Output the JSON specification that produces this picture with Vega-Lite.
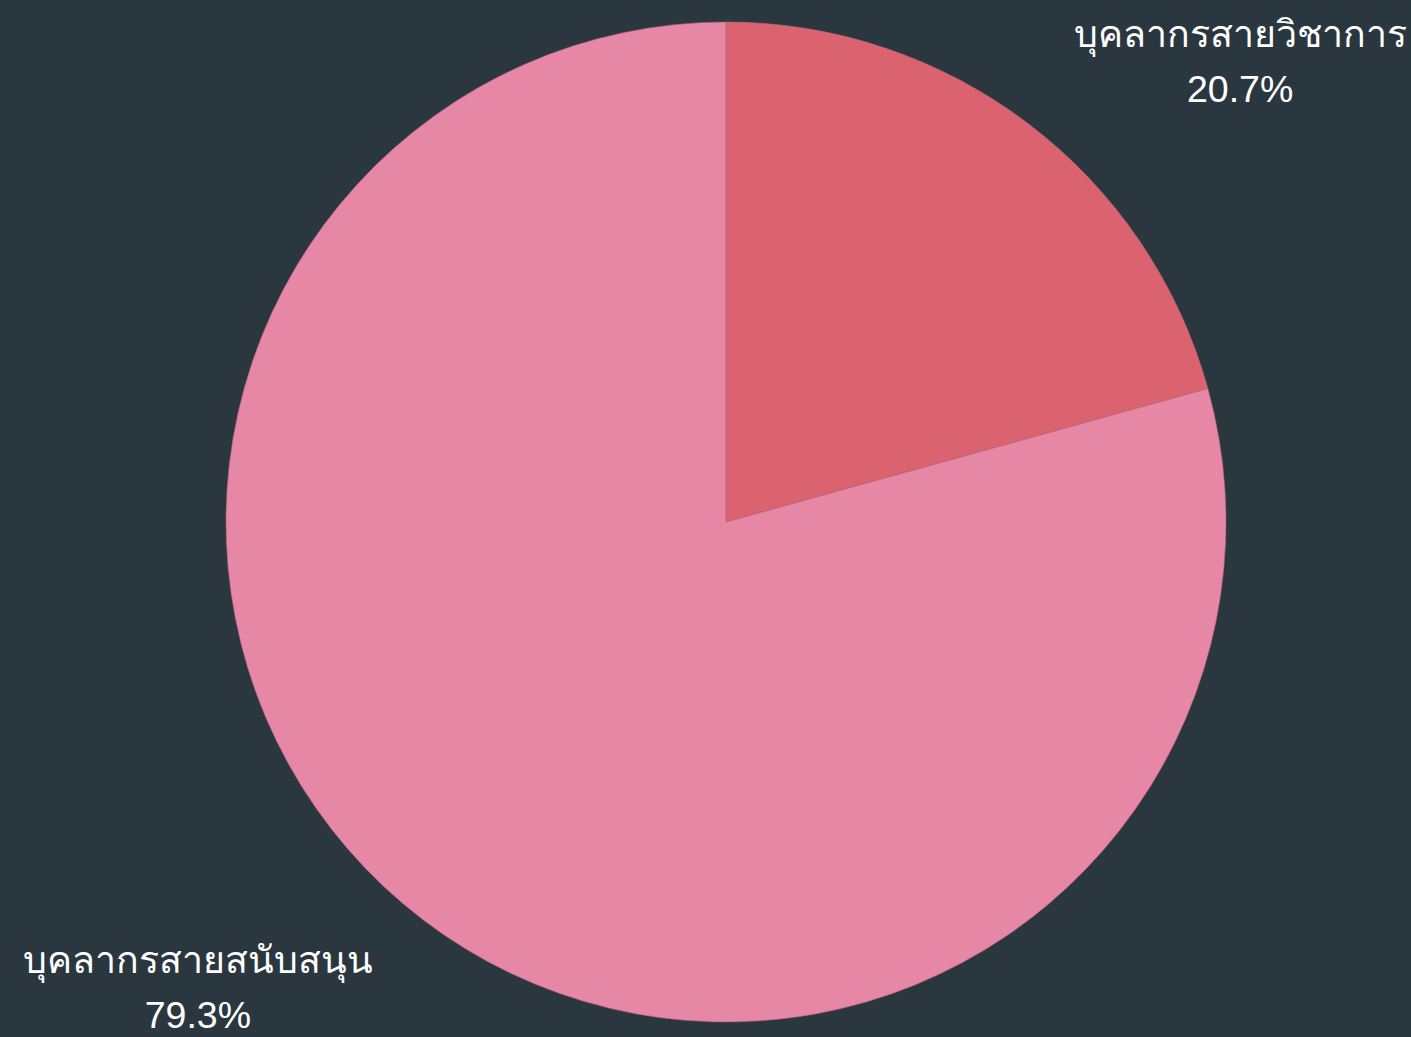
{
  "$schema": "https://vega.github.io/schema/vega-lite/v6.json",
  "width": 1370,
  "height": 1030,
  "padding": {"left": 41, "top": 7, "right": 0, "bottom": 0},
  "autosize": {"type": "none"},
  "background": "#2b373f",
  "config": {"view": {"stroke": null}},
  "data": {
    "values": [
      {"category": "บุคลากรสายวิชาการ", "value": 20.7},
      {"category": "บุคลากรสายสนับสนุน", "value": 79.3}
    ]
  },
  "transform": [
    {"calculate": "[datum.category, format(datum.value / 100, '.1%')]", "as": "label"}
  ],
  "encoding": {
    "theta": {"field": "value", "type": "quantitative", "stack": true}
  },
  "layer": [
    {
      "mark": {"type": "arc", "outerRadius": 500, "stroke": "#b86478", "strokeWidth": 0.6},
      "encoding": {
        "color": {
          "field": "category",
          "type": "nominal",
          "scale": {"domain": ["บุคลากรสายวิชาการ", "บุคลากรสายสนับสนุน"], "range": ["#db6370", "#e687a5"]},
          "legend": null
        }
      }
    },
    {
      "mark": {
        "type": "text",
        "radius": 580,
        "align": "center",
        "baseline": "middle",
        "fontSize": 37.5,
        "lineHeight": 55,
        "font": "Liberation Sans",
        "color": "#ffffff",
        "dx": {"expr": "datum.category == 'บุคลากรสายวิชาการ' ? 163 : -177"},
        "dy": {"expr": "datum.category == 'บุคลากรสายวิชาการ' ? -24 : -22"}
      },
      "encoding": {
        "detail": {"field": "category", "type": "nominal"},
        "text": {"field": "label"}
      }
    }
  ]
}
